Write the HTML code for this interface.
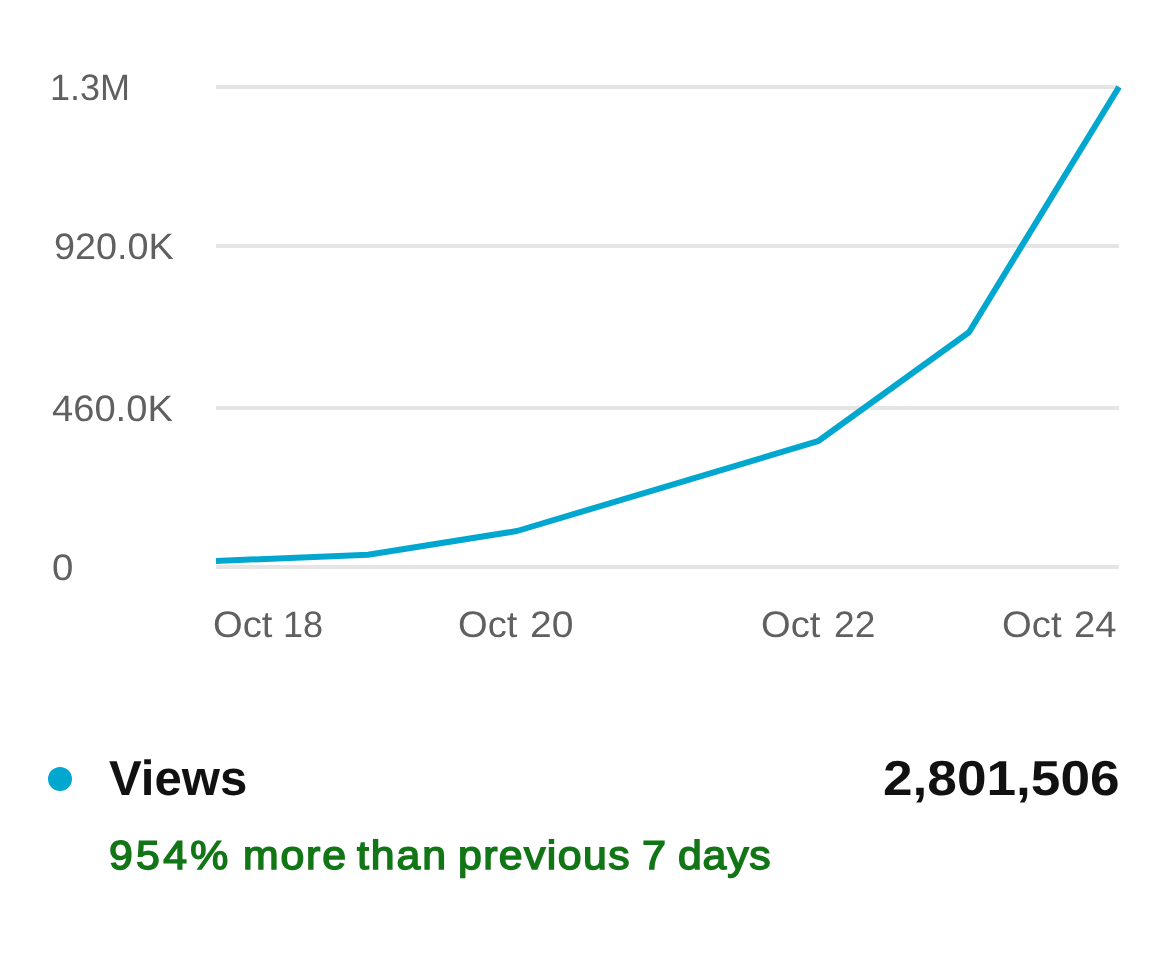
<!DOCTYPE html>
<html lang="en">
<head>
<meta charset="utf-8">
<meta name="viewport" content="width=1170">
<title>Views</title>
<style>
  html, body { margin: 0; padding: 0; background: #ffffff; }
  body { width: 1170px; height: 956px; position: relative; overflow: hidden;
         font-family: "Liberation Sans", sans-serif; text-rendering: geometricPrecision; }
  .chart, .legend, .yaxis, .xaxis, .plot, .row, .delta, .xl { position: absolute; left: 0; top: 0; margin: 0; padding: 0; }
  .grid { position: absolute; left: 216px; width: 903px; height: 4px; background: #e5e5e5; }
  .t { position: absolute; display: block; white-space: nowrap; line-height: 1; transform-origin: 0 0; }
  .ax { color: #606060; font-size: 36.9px; font-weight: normal;  }
  .lg { color: #111111; font-size: 49.2px; font-weight: bold;  }
  .dl { color: #127617; font-size: 40.4px; font-weight: normal; -webkit-text-stroke: 1.5px #127617; }
  svg { position: absolute; left: 0; top: 0; display: block; }
  .dot { position: absolute; left: 48px; top: 767px; width: 24px; height: 24px; border-radius: 50%; background: #02a7d0; }
</style>
</head>
<body>
  <div class="chart">
    <div class="plot">
      <div class="grid" style="top:85px"></div>
      <div class="grid" style="top:244px"></div>
      <div class="grid" style="top:406px"></div>
      <div class="grid" style="top:565px"></div>
      <svg width="1170" height="700" viewBox="0 0 1170 700" aria-hidden="true">
        <polyline points="216,561 368,554.8 517,531 818,441.2 969,332.2 1119,87" fill="none" stroke="#02a7d0" stroke-width="6" stroke-linejoin="round" stroke-linecap="butt"/>
      </svg>
    </div>
    <div class="yaxis">
      <span class="t ax" style="left:50.01px;top:70px;transform:scaleX(0.9770)">1.3M</span>
      <span class="t ax" style="left:54.21px;top:229px;transform:scaleX(1.0240)">920.0K</span>
      <span class="t ax" style="left:52.03px;top:391px;transform:scaleX(1.0333)">460.0K</span>
      <span class="t ax" style="left:51.64px;top:550px;transform:scaleX(1.0400)">0</span>
    </div>
    <div class="xaxis">
      <div class="xl"><span class="t ax" style="left:213.19px;top:607px;transform:scaleX(1.0353)">Oct</span> <span class="t ax" style="left:283.11px;top:607px;transform:scaleX(0.9769)">18</span></div>
      <div class="xl"><span class="t ax" style="left:458.19px;top:607px;transform:scaleX(1.0353)">Oct</span> <span class="t ax" style="left:529.85px;top:607px;transform:scaleX(1.0596)">20</span></div>
      <div class="xl"><span class="t ax" style="left:761.19px;top:607px;transform:scaleX(1.0353)">Oct</span> <span class="t ax" style="left:834.04px;top:607px;transform:scaleX(1.0080)">22</span></div>
      <div class="xl"><span class="t ax" style="left:1002.29px;top:607px;transform:scaleX(1.0371)">Oct</span> <span class="t ax" style="left:1073.79px;top:607px;transform:scaleX(1.0353)">24</span></div>
    </div>
  </div>
  <div class="legend">
    <div class="row">
      <div class="dot"></div>
      <span class="t lg" style="left:109.20px;top:754px;transform:scaleX(0.9978)">Views</span>
      <span class="t lg" style="left:883.11px;top:754px;transform:scaleX(1.0811)">2,801,506</span>
    </div>
    <p class="delta"><span class="t dl" style="left:109.47px;top:835px;letter-spacing:3.105px;transform:scaleX(1.0600)">954%</span> <span class="t dl" style="left:242.75px;top:835px;letter-spacing:1.697px;transform:scaleX(1.0600)">more</span> <span class="t dl" style="left:357.16px;top:835px;letter-spacing:1.818px;transform:scaleX(1.0600)">than</span> <span class="t dl" style="left:458.14px;top:835px;letter-spacing:1.312px;transform:scaleX(1.0600)">previous</span> <span class="t dl" style="left:642.46px;top:835px;transform:scaleX(1.0700)">7</span> <span class="t dl" style="left:678.14px;top:835px;letter-spacing:0.720px;transform:scaleX(1.0600)">days</span></p>
  </div>
</body>
</html>
